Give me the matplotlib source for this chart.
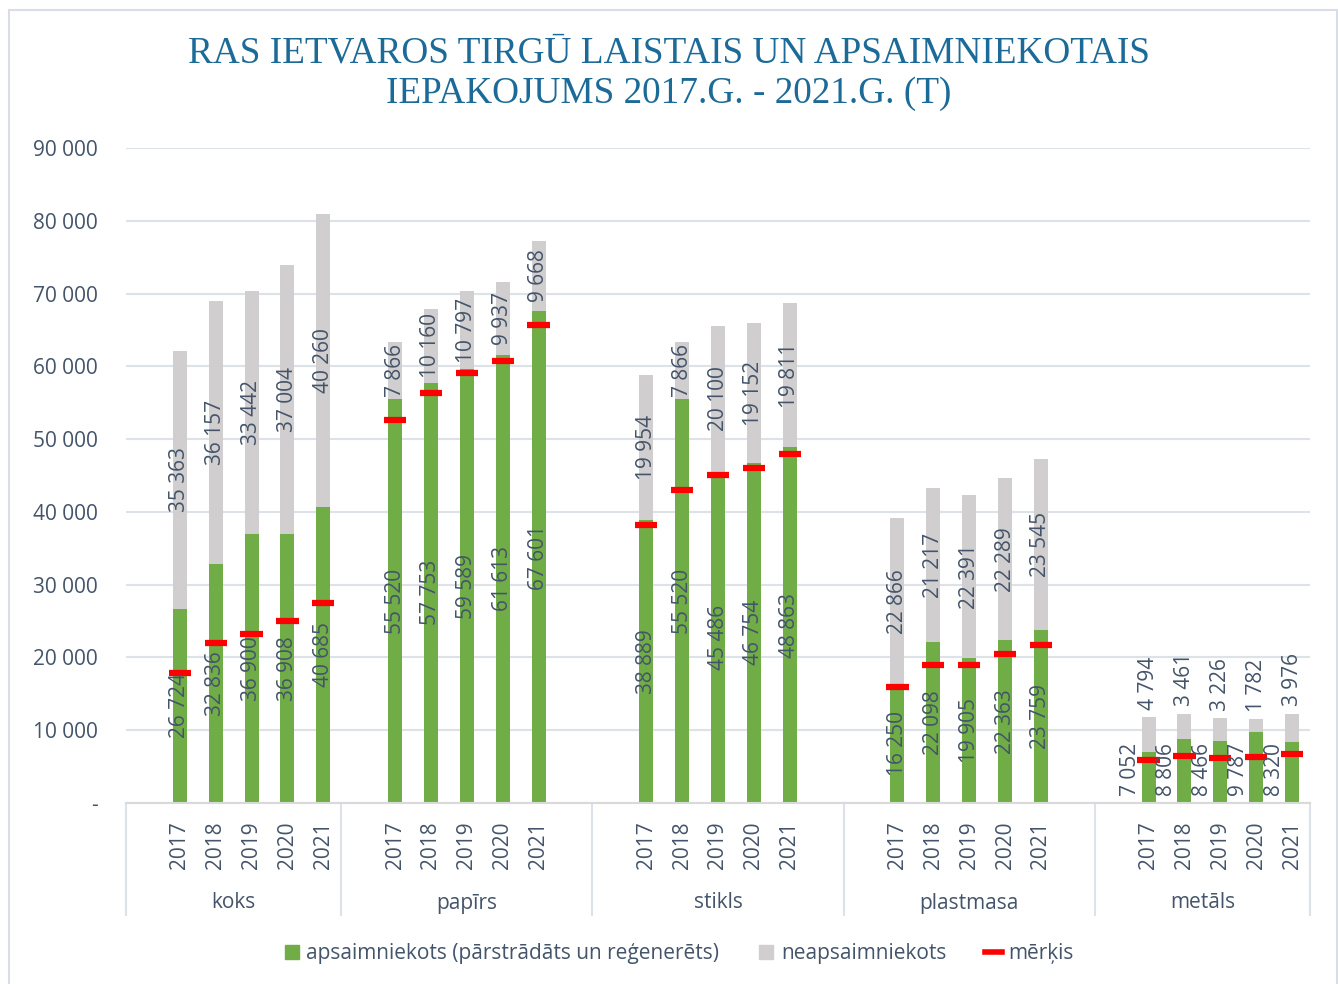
import matplotlib.pyplot as plt
import numpy as np
from matplotlib.lines import Line2D
from matplotlib.patches import Rectangle

# Data (tonnes)
materials = ["koks", "papīrs", "stikls", "plastmasa", "metāls"]
years = ["2017", "2018", "2019", "2020", "2021"]
managed = [
    [26724, 32836, 36900, 36908, 40685],
    [55520, 57753, 59589, 61613, 67601],
    [38889, 55520, 45486, 46754, 48863],
    [16250, 22098, 19905, 22363, 23759],
    [7052, 8806, 8466, 9787, 8320],
]
unmanaged = [
    [35363, 36157, 33442, 37004, 40260],
    [7866, 10160, 10797, 9937, 9668],
    [19954, 7866, 20100, 19152, 19811],
    [22866, 21217, 22391, 22289, 23545],
    [4794, 3461, 3226, 1782, 3976],
]
targets = [
    [17900, 22000, 23200, 25000, 27500],
    [52600, 56300, 59100, 60700, 65700],
    [38200, 43000, 45100, 46000, 48000],
    [15900, 19000, 19000, 20500, 21700],
    [5900, 6500, 6200, 6300, 6700],
]

GREEN = "#70AD47"
GRAY = "#D0CECE"
RED = "#FF0000"
TXT = "#44546A"
GRID = "#DDE2E9"

plt.rcParams["font.family"] = ["Open Sans", "DejaVu Sans"]

fig = plt.figure(figsize=(13.38, 9.84), dpi=100)
ax = fig.add_axes([126 / 1338, 1 - 803 / 984, (1310 - 126) / 1338, (803 - 148) / 984])

# slot layout: one empty slot before each group, extra one after middle groups
starts = [1, 7, 14, 21, 28]
bounds = [-0.5, 5.5, 12.5, 19.5, 26.5, 32.5]
width = 0.39

xs_all = []
for g, mat in enumerate(materials):
    x = np.arange(5) + starts[g]
    xs_all.extend(x)
    m = np.array(managed[g])
    u = np.array(unmanaged[g])
    ax.bar(x, m, width, color=GREEN, zorder=2)
    ax.bar(x, u, width, bottom=m, color=GRAY, zorder=2)
    ax.hlines(targets[g], x - 0.31, x + 0.31, color=RED, lw=4.5, zorder=4)
    for i in range(5):
        lm = f"{m[i]:,}".replace(",", " ")
        lu = f"{u[i]:,}".replace(",", " ")
        if mat == "metāls":
            ax.text(x[i] - 0.5, 900, lm, rotation=90, ha="center", va="bottom",
                    fontsize=15, color=TXT, zorder=5)
            ax.text(x[i], m[i] + u[i] + 1000, lu, rotation=90, ha="center",
                    va="bottom", fontsize=15, color=TXT, zorder=5)
        else:
            ax.text(x[i], m[i] / 2, lm, rotation=90, ha="center", va="center",
                    fontsize=15, color=TXT, zorder=5)
            ax.text(x[i], m[i] + u[i] / 2, lu, rotation=90, ha="center",
                    va="center", fontsize=15, color=TXT, zorder=5)

ax.set_xlim(-0.5, 32.5)
ax.set_ylim(0, 90000)
yt = np.arange(0, 90001, 10000)
ax.set_yticks(yt)
ax.set_yticklabels(["-"] + [f"{v:,}".replace(",", " ") for v in yt[1:]],
                   fontsize=15, color=TXT)
ax.tick_params(axis="y", length=0, pad=20)
ax.yaxis.grid(True, color=GRID, lw=1.5)
ax.set_axisbelow(True)

ax.set_xticks(xs_all)
ax.set_xticklabels(years * 5, rotation=90, fontsize=15, color=TXT)
ax.tick_params(axis="x", length=0, pad=13)

for s in ["left", "right", "top"]:
    ax.spines[s].set_visible(False)
ax.spines["bottom"].set_color("#D9D9D9")
ax.spines["bottom"].set_linewidth(1.5)

trans = ax.get_xaxis_transform()
for b in bounds:
    ax.plot([b, b], [0, -112 / 655], color=GRID, lw=1.5, transform=trans,
            clip_on=False)
for g, mat in enumerate(materials):
    xc = (bounds[g] + bounds[g + 1]) / 2
    ax.text(xc, -100 / 655, mat, transform=trans, ha="center", va="center",
            fontsize=15, color=TXT)

fig.text(0.5, 0.925, "RAS IETVAROS TIRGŪ LAISTAIS UN APSAIMNIEKOTAIS\n"
         "IEPAKOJUMS 2017.G. - 2021.G. (T)", ha="center", va="center",
         fontsize=26.8, color="#1B6A98", family="Liberation Serif",
         linespacing=1.22)

handles = [
    Line2D([], [], marker="s", ls="", color=GREEN, markersize=10),
    Line2D([], [], marker="s", ls="", color=GRAY, markersize=10),
    Line2D([], [], color=RED, lw=4),
]
labels = ["apsaimniekots (pārstrādāts un reģenerēts)", "neapsaimniekots", "mērķis"]
fig.legend(handles, labels, loc="center", bbox_to_anchor=(0.507, 0.031),
           ncol=3, frameon=False, fontsize=15, handlelength=0.8,
           handletextpad=0.3, columnspacing=1.85, labelcolor=TXT)

fig.patches.append(Rectangle((9 / 1338, -0.01), (1337 - 9) / 1338, 1 - 10 / 984 + 0.01,
                             transform=fig.transFigure, fill=False,
                             edgecolor="#D9DEE6", lw=1.5))

fig.savefig("out.png", dpi=100)
